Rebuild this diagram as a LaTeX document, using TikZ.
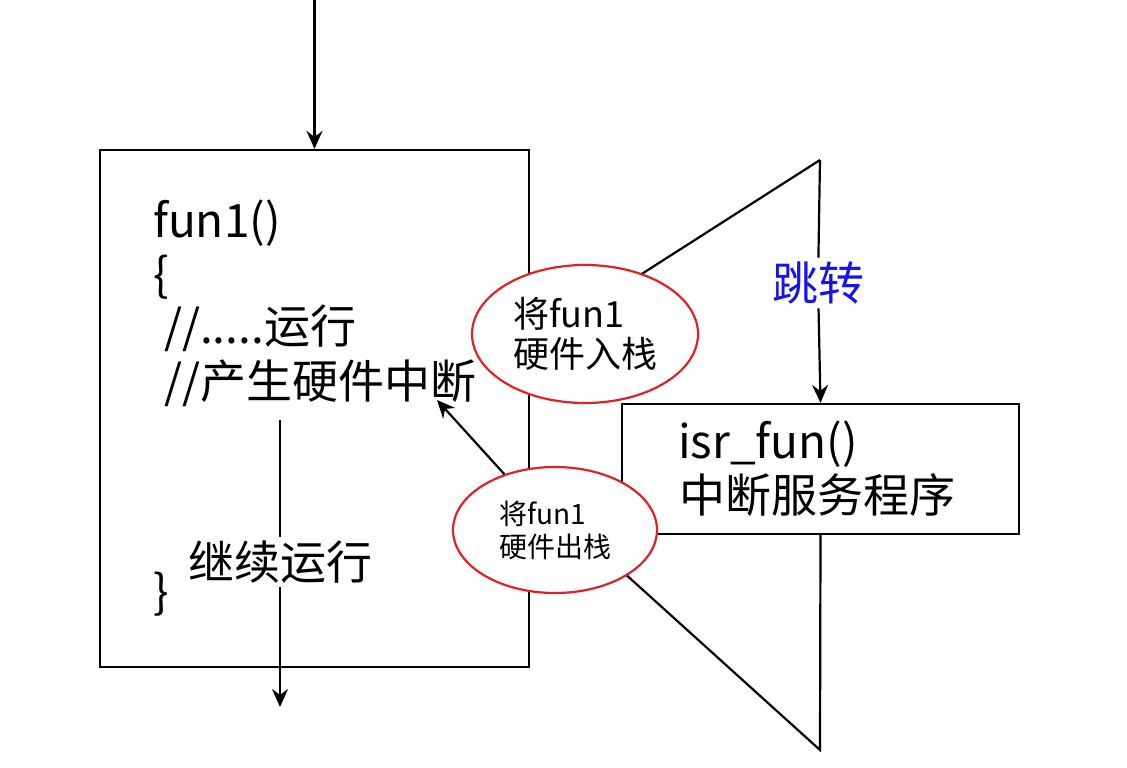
\documentclass[tikz,border=0pt]{standalone}
\usepackage{fontspec}
\usepackage{xcolor}
\setmainfont{Noto Sans CJK SC}
\usetikzlibrary{arrows.meta,shapes.geometric}
\definecolor{stackred}{RGB}{222,34,40}
\definecolor{jumpblue}{RGB}{20,20,235}

\begin{document}
\begin{tikzpicture}[
  x=1pt, y=-1pt,
  line width=2.2pt,
  box/.style={draw, line width=2.2pt, inner sep=0pt},
  code/.style={anchor=base west, inner sep=0pt, font=\fontsize{46}{54}\selectfont},
  gap/.style={fill=white, inner sep=3pt, font=\fontsize{46}{54}\selectfont},
  stack/.style={draw=stackred, ellipse, fill=white, line width=2.2pt, align=left, inner sep=0pt},
  arrow/.style={-{Stealth[length=18pt,width=16pt,inset=6pt]}, line width=2.2pt}
]
\useasboundingbox (0,0) rectangle (1127,768);

\node[box, minimum width=429, minimum height=517] (fun) at (314.5,408.5) {};
\node[box, minimum width=397, minimum height=130] (isr) at (820.5,469) {};

\node[code] (name) at (152,237) {fun1()};
\node[code] (open) at (152,291) {\{};
\node[code] (run) at (163,343) {//.....运行};
\node[code] (irq) at (163,398) {//产生硬件中断};
\node[code] (close) at (152,608) {\}};
\node[code] (isrname) at (677,458) {isr\_fun()};
\node[code] (isrtext) at (678,512) {中断服务程序};

\coordinate (entry) at (314.5,0);
\coordinate (top) at (820,160);
\coordinate (bot) at (820,750);
\coordinate (inA) at (529,346);
\coordinate (inB) at (529,487);
\coordinate (start) at (280,420);
\coordinate (exit) at (280,707);
\coordinate (hit) at (437,400);

\node[gap, text=jumpblue] (jump) at (818,283) {跳转};
\node[gap] (cont) at (280,562) {继续运行};

\draw[arrow] (entry) -- (fun.north);
\draw (top) -- (jump);
\draw[arrow] (jump) -- (isr.north);
\draw (inA) -- (top);
\draw (isr.south) -- (bot) -- (inB);
\draw (start) -- (cont);
\draw[arrow] (cont) -- (exit);

\node[stack, minimum width=226, minimum height=138, font=\fontsize{36}{40}\selectfont] (push) at (585,334) {将fun1\\硬件入栈};
\node[stack, minimum width=204, minimum height=126, font=\fontsize{28}{33}\selectfont] (pop) at (555,530) {将fun1\\硬件出栈};

\draw[arrow] (pop) -- (hit);
\end{tikzpicture}
\end{document}
